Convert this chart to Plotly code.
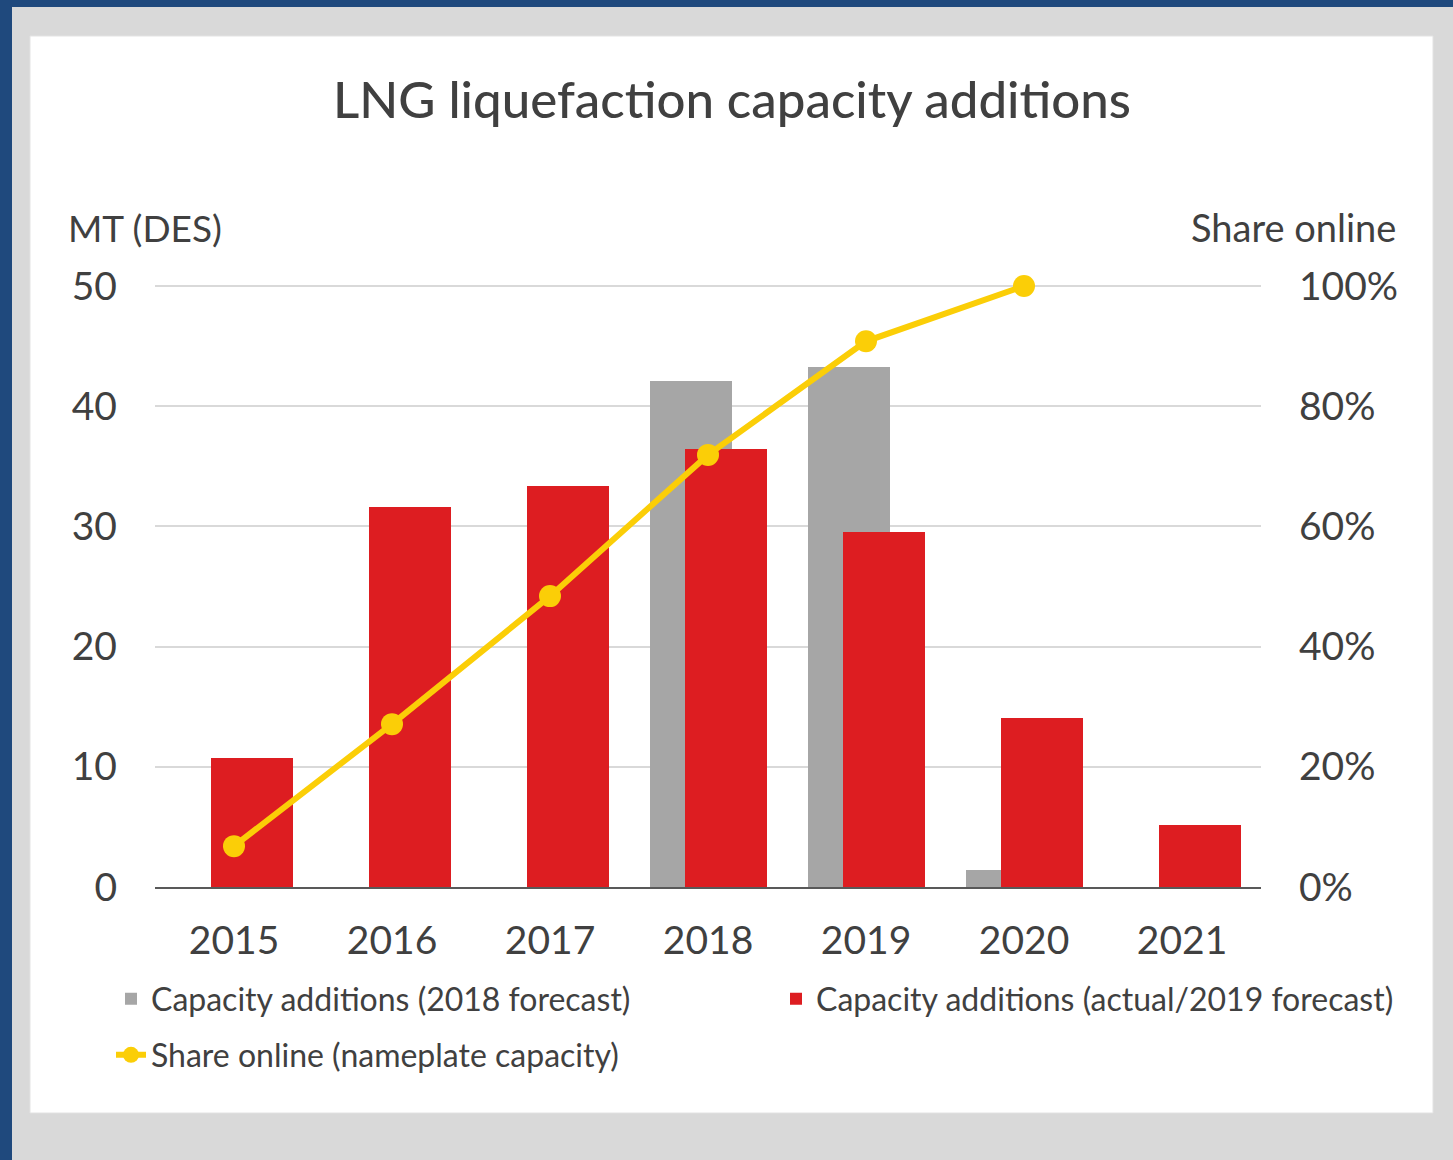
import plotly.graph_objects as go

years = ["2015", "2016", "2017", "2018", "2019", "2020", "2021"]
forecast_2018 = [None, None, None, 42.1, 43.3, 1.4, None]
actual_2019 = [10.7, 31.6, 33.4, 36.4, 29.5, 14.1, 5.2]
share_years = ["2015", "2016", "2017", "2018", "2019", "2020"]
share_online = [0.068, 0.271, 0.484, 0.719, 0.908, 1.0]
y_ticks = [0, 10, 20, 30, 40, 50]
y2_ticks = [0, 0.2, 0.4, 0.6, 0.8, 1.0]

W, H = 1453, 1160
Y_MAX = 50.5
L, R, B = 155, 1261, 887
T = B - Y_MAX * (601 / 50)
FONT = "Lato"
TXT = "#404040"
GREY = "#a6a6a6"
RED = "#dd1d21"
YEL = "#fbce07"


def xp(px):
    return (px - L) / (R - L)


def yp(py):
    return (B - py) / (B - T)


fig = go.Figure()
fig.add_trace(go.Bar(
    x=years, y=forecast_2018, name="Capacity additions (2018 forecast)",
    marker=dict(color=GREY, line=dict(width=0)), width=0.52, offset=-0.367,
    legend="legend", showlegend=True))
fig.add_trace(go.Bar(
    x=years, y=actual_2019, name="Capacity additions (actual/2019 forecast)",
    marker=dict(color=RED, line=dict(width=0)), width=0.52, offset=-0.146,
    legend="legend2", showlegend=True))
fig.add_trace(go.Scatter(
    x=share_years, y=share_online, yaxis="y2", mode="lines+markers",
    name="Share online (nameplate capacity)", cliponaxis=False,
    line=dict(color=YEL, width=6), marker=dict(color=YEL, size=22),
    legend="legend3", showlegend=True))

shapes = [
    dict(type="rect", xref="paper", yref="paper", x0=xp(0), x1=xp(W), y0=yp(0), y1=yp(H),
         fillcolor="#1f497d", line=dict(width=0), layer="below"),
    dict(type="rect", xref="paper", yref="paper", x0=xp(12), x1=xp(W + 5), y0=yp(7), y1=yp(H + 5),
         fillcolor="#d9d9d9", line=dict(width=0), layer="below"),
    dict(type="rect", xref="paper", yref="paper", x0=xp(30), x1=xp(1433), y0=yp(36), y1=yp(1113),
         fillcolor="white", line=dict(width=1, color="#e3e3e3"), layer="below"),
]

legend_common = dict(orientation="h", bgcolor="rgba(0,0,0,0)",
                     font=dict(family=FONT, size=32, color=TXT),
                     xanchor="left", yanchor="middle", itemwidth=30)

fig.update_layout(
    width=W, height=H,
    margin=dict(l=L, r=W - R, t=T, b=H - B, pad=0),
    paper_bgcolor="#d9d9d9", plot_bgcolor="rgba(0,0,0,0)",
    barmode="overlay", bargap=0, showlegend=True,
    shapes=shapes,
    title=dict(text="LNG liquefaction capacity additions", xref="paper", x=xp(732),
               xanchor="center", yref="container", y=1 - 100 / H, yanchor="middle",
               font=dict(family=FONT, size=51, color=TXT, weight=500)),
    xaxis=dict(type="category", range=[-0.5, 6.5], showgrid=False,
               showline=True, linecolor="#595959", linewidth=2,
               ticks="", ticklabelstandoff=18,
               tickfont=dict(family=FONT, size=39, color=TXT)),
    yaxis=dict(range=[0, Y_MAX], tickvals=y_ticks, showgrid=True, gridcolor="#d9d9d9",
               gridwidth=2, zeroline=False, showline=False, ticks="",
               ticklabelstandoff=37,
               tickfont=dict(family=FONT, size=39, color=TXT)),
    yaxis2=dict(range=[0, Y_MAX / 50], tickvals=y2_ticks, tickformat=".0%", overlaying="y",
                side="right", showgrid=False, zeroline=False, showline=False, ticks="",
                ticklabelstandoff=37,
                tickfont=dict(family=FONT, size=39, color=TXT)),
    legend=dict(legend_common, x=xp(111), y=yp(999)),
    legend2=dict(legend_common, x=xp(776), y=yp(999)),
    legend3=dict(legend_common, x=xp(111), y=yp(1055)),
    annotations=[
        dict(text="MT (DES)", xref="paper", yref="paper", x=xp(66), y=yp(227),
             xanchor="left", yanchor="middle", showarrow=False,
             font=dict(family=FONT, size=37, color=TXT)),
        dict(text="Share online", xref="paper", yref="paper", x=xp(1398), y=yp(227),
             xanchor="right", yanchor="middle", showarrow=False,
             font=dict(family=FONT, size=38, color=TXT)),
    ],
)

fig.write_html("out.html", config={"displayModeBar": False},
               post_script="document.body.style.margin='0';")
